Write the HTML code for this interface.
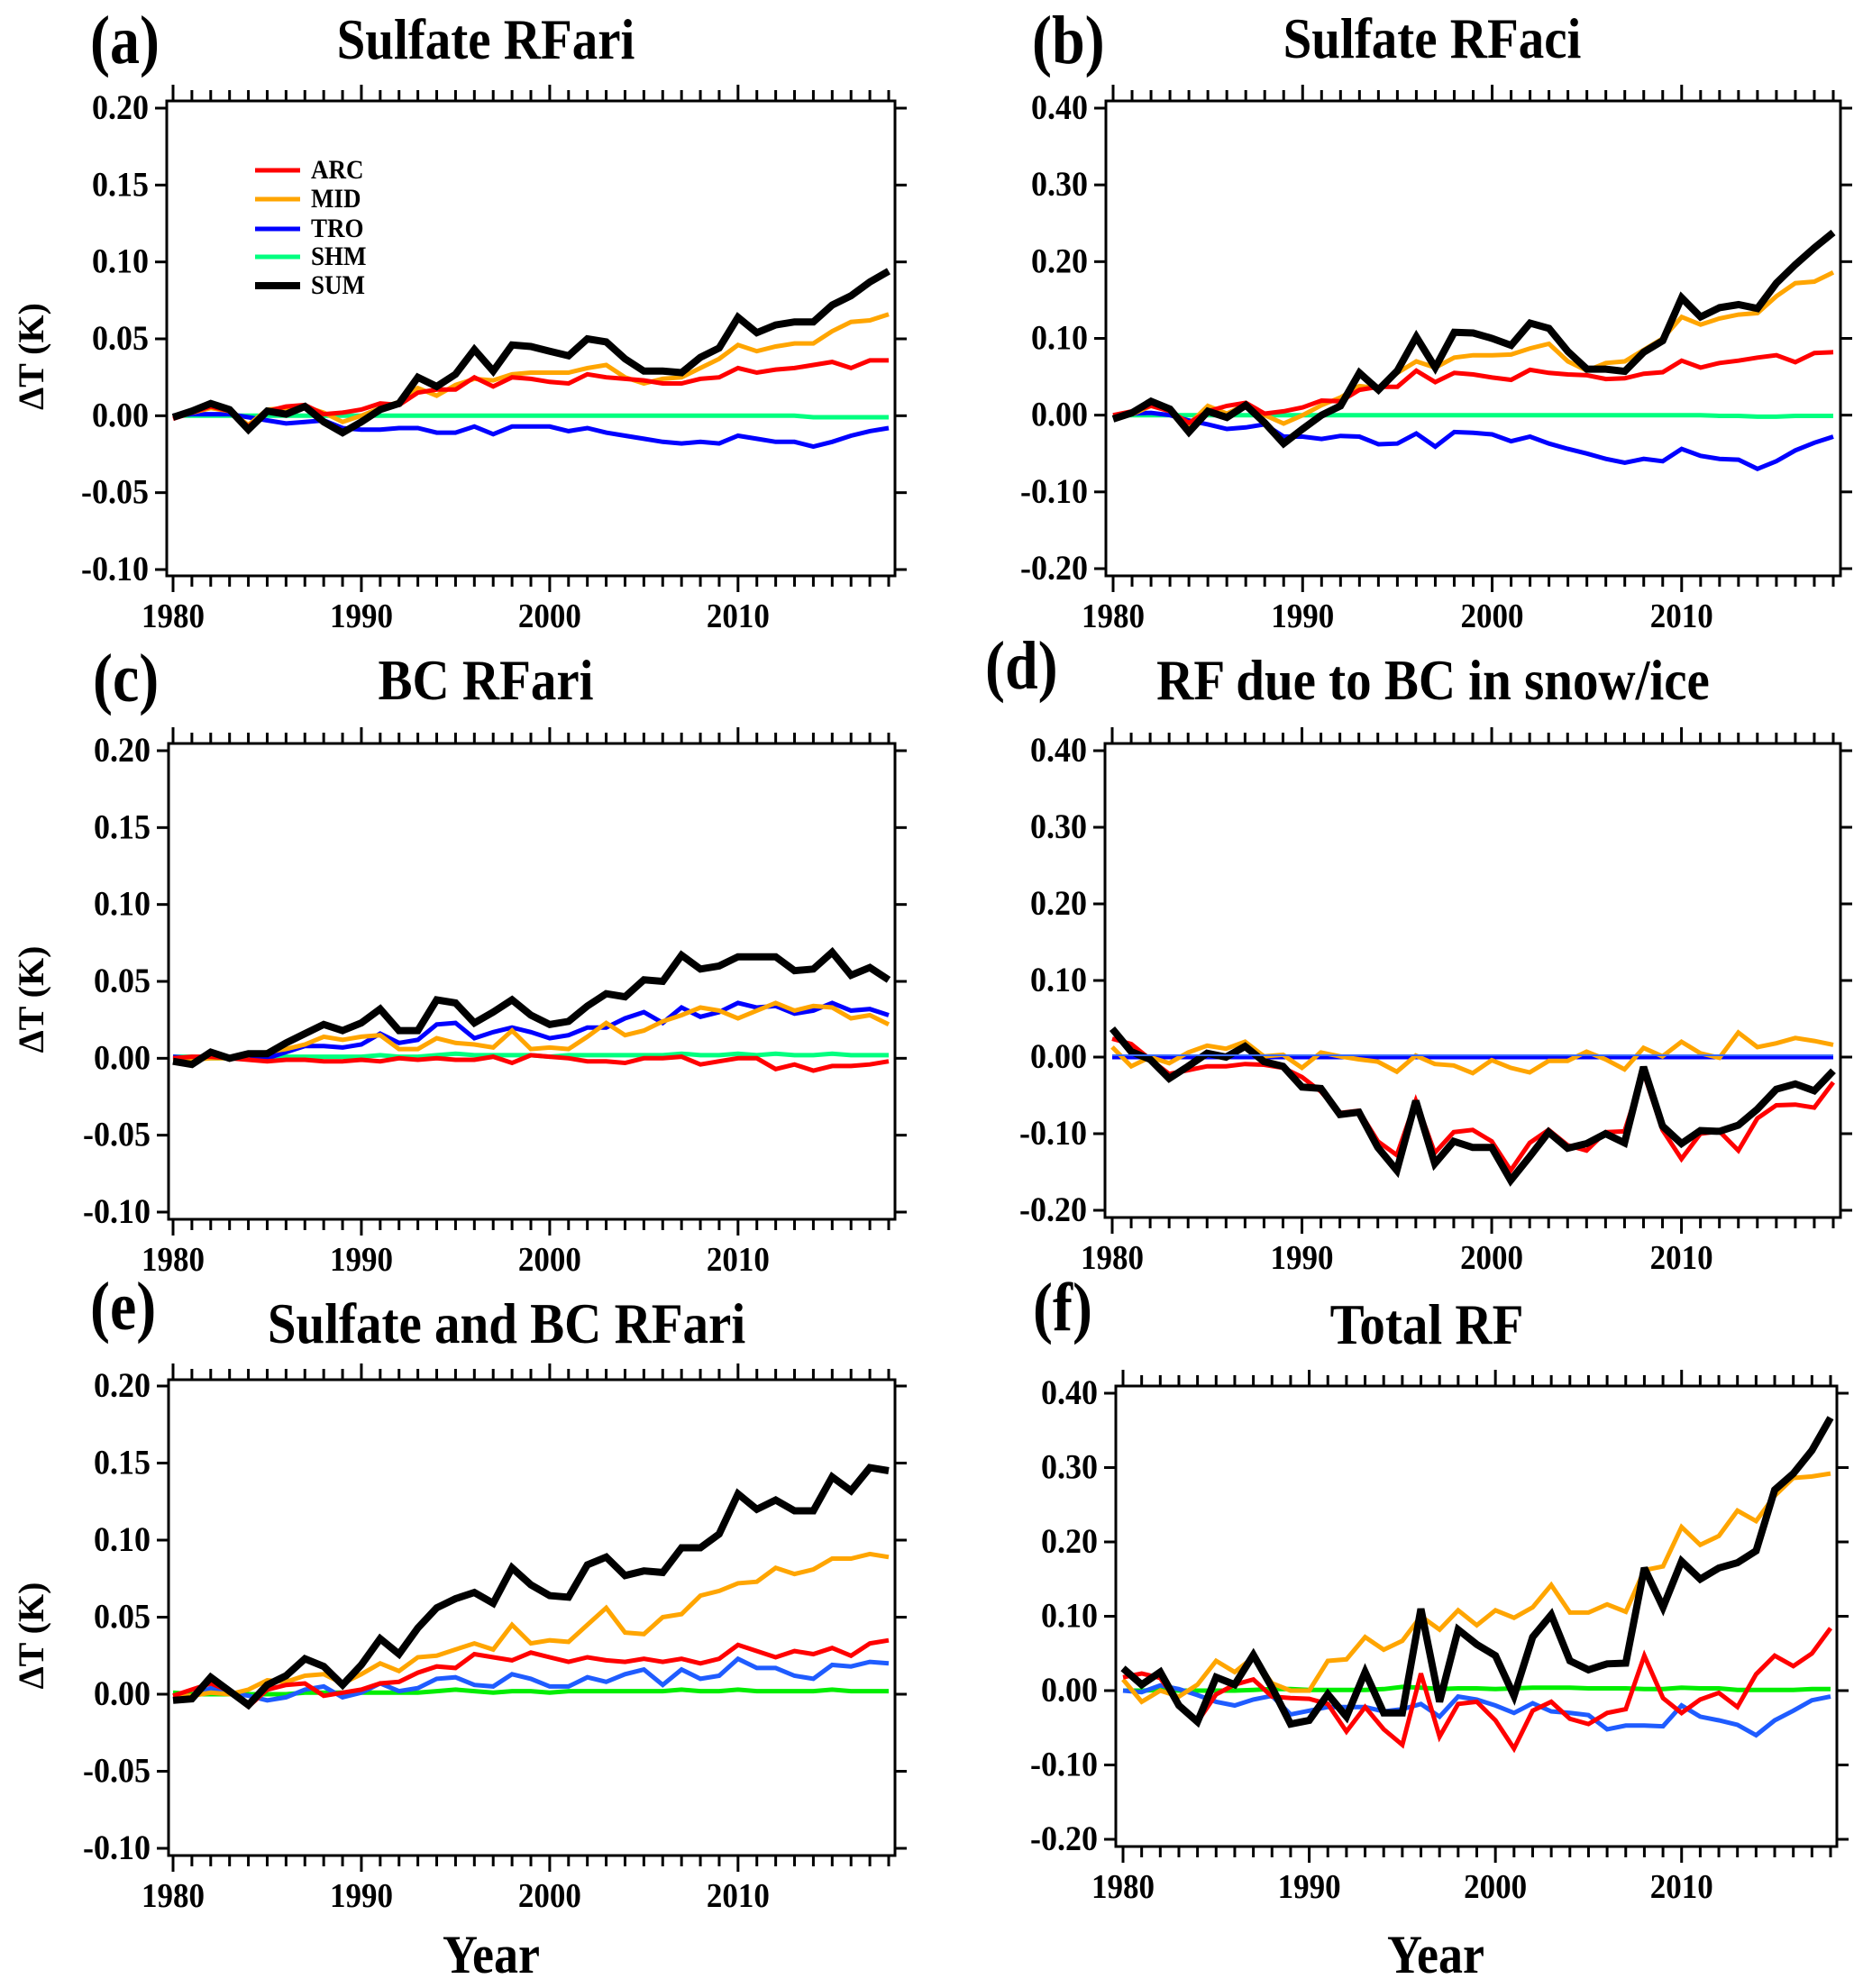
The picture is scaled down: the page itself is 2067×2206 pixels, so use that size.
<!DOCTYPE html>
<html><head><meta charset="utf-8"><style>
html,body{margin:0;padding:0;background:#fff;}
svg{display:block;font-family:"Liberation Serif",serif;font-weight:bold;}
</style></head><body>
<svg id="fig" width="2067" height="2206" viewBox="0 0 2067 2206" xmlns="http://www.w3.org/2000/svg"></svg>
<script>
const years = [];
for (let y = 1980; y <= 2018; y++) years.push(y);
const seriesNames = ["ARC","MID","TRO","SHM","SUM"];

// Panel (a) Sulfate RFari
const aARC=[-0.002,0.002,0.006,0.003,-0.007,0.003,0.006,0.007,0.001,0.002,0.004,0.008,0.007,0.015,0.017,0.017,0.025,0.019,0.025,0.024,0.022,0.021,0.027,0.025,0.024,0.023,0.021,0.021,0.024,0.025,0.031,0.028,0.030,0.031,0.033,0.035,0.031,0.036,0.036];
const aMID=[-0.001,0.002,0.005,0.003,-0.006,0.004,0.005,0.006,0.002,-0.004,0.000,0.005,0.009,0.018,0.013,0.020,0.024,0.023,0.027,0.028,0.028,0.028,0.031,0.033,0.025,0.021,0.024,0.025,0.031,0.037,0.046,0.042,0.045,0.047,0.047,0.055,0.061,0.062,0.066];
const aTRO=[0,0.001,0.001,0.001,-0.001,-0.003,-0.005,-0.004,-0.003,-0.008,-0.009,-0.009,-0.008,-0.008,-0.011,-0.011,-0.007,-0.012,-0.007,-0.007,-0.007,-0.010,-0.008,-0.011,-0.013,-0.015,-0.017,-0.018,-0.017,-0.018,-0.013,-0.015,-0.017,-0.017,-0.020,-0.017,-0.013,-0.010,-0.008];
const aSHM=[0,0,0,0,0,0,0,0,0,0,0,0,0,0,0,0,0,0,0,0,0,0,0,0,0,0,0,0,0,0,0,0,0,0,-0.001,-0.001,-0.001,-0.001,-0.001];
const aSUM=[-0.001,0.003,0.008,0.004,-0.009,0.003,0.001,0.006,-0.004,-0.011,-0.004,0.004,0.008,0.025,0.019,0.027,0.043,0.029,0.046,0.045,0.042,0.039,0.050,0.048,0.037,0.029,0.029,0.028,0.038,0.044,0.064,0.054,0.059,0.061,0.061,0.072,0.078,0.087,0.094];

// Panel (b) Sulfate RFaci
const bARC=[0,0.005,0.012,0.005,-0.010,0.005,0.012,0.016,0.002,0.005,0.010,0.019,0.018,0.033,0.037,0.037,0.058,0.043,0.055,0.053,0.049,0.046,0.059,0.055,0.053,0.052,0.047,0.048,0.054,0.056,0.071,0.062,0.068,0.071,0.075,0.078,0.069,0.081,0.082];
const bMID=[-0.002,0.001,0.012,0.006,-0.012,0.012,0.002,0.014,0.000,-0.011,0.000,0.013,0.023,0.038,0.035,0.055,0.070,0.062,0.075,0.078,0.078,0.079,0.087,0.093,0.070,0.058,0.068,0.070,0.085,0.100,0.128,0.118,0.126,0.131,0.133,0.155,0.172,0.174,0.186];
const bTRO=[0,0.002,0.003,0.000,-0.007,-0.012,-0.018,-0.016,-0.012,-0.028,-0.028,-0.031,-0.027,-0.028,-0.038,-0.037,-0.024,-0.041,-0.022,-0.023,-0.025,-0.034,-0.028,-0.037,-0.044,-0.050,-0.057,-0.062,-0.057,-0.060,-0.044,-0.053,-0.057,-0.058,-0.070,-0.060,-0.046,-0.036,-0.028];
const bSHM=[0,0,0,0,0,0,0,0,0,0,0,0,0,0,0,0,0,0,0,0,0,0,0,0,0,0,0,0,0,0,0,0,-0.001,-0.001,-0.002,-0.002,-0.001,-0.001,-0.001];
const bSUM=[-0.005,0.003,0.018,0.008,-0.022,0.005,-0.003,0.013,-0.010,-0.037,-0.018,0.000,0.012,0.055,0.033,0.058,0.102,0.062,0.108,0.107,0.100,0.091,0.120,0.113,0.083,0.060,0.060,0.057,0.082,0.097,0.153,0.128,0.140,0.144,0.139,0.172,0.196,0.218,0.238];

// Panel (c) BC RFari
const cARC=[0,0.001,0.001,0,-0.001,-0.002,-0.001,-0.001,-0.002,-0.002,-0.001,-0.002,0.000,-0.001,0.000,-0.001,-0.001,0.001,-0.003,0.002,0.001,0.000,-0.002,-0.002,-0.003,0.000,0.000,0.001,-0.004,-0.002,0.000,0.000,-0.007,-0.004,-0.008,-0.005,-0.005,-0.004,-0.002];
const cMID=[0,-0.001,0,0,0.002,0.004,0.006,0.009,0.014,0.012,0.014,0.015,0.006,0.006,0.013,0.010,0.009,0.007,0.018,0.006,0.007,0.006,0.014,0.023,0.015,0.018,0.024,0.028,0.033,0.031,0.026,0.031,0.036,0.031,0.034,0.033,0.026,0.028,0.022];
const cTRO=[0.001,0.000,0.002,0.000,0.000,0.000,0.004,0.008,0.008,0.007,0.009,0.016,0.010,0.012,0.022,0.023,0.013,0.017,0.020,0.017,0.013,0.015,0.020,0.020,0.026,0.030,0.023,0.033,0.027,0.030,0.036,0.033,0.034,0.029,0.031,0.036,0.031,0.032,0.028];
const cSHM=[0.001,0.001,0,0,0,0.001,0.001,0.001,0.001,0.001,0.001,0.002,0.001,0.001,0.002,0.003,0.002,0.002,0.002,0.002,0.001,0.002,0.002,0.002,0.002,0.002,0.002,0.003,0.002,0.002,0.003,0.002,0.003,0.002,0.002,0.003,0.002,0.002,0.002];
const cSUM=[-0.002,-0.004,0.004,0.000,0.003,0.003,0.010,0.016,0.022,0.018,0.023,0.032,0.018,0.018,0.038,0.036,0.023,0.030,0.038,0.028,0.022,0.024,0.034,0.042,0.040,0.051,0.050,0.067,0.058,0.060,0.066,0.066,0.066,0.057,0.058,0.069,0.054,0.059,0.051];

// Panel (d) RF due to BC in snow/ice
const dARC=[0.024,0.017,-0.003,-0.022,-0.017,-0.012,-0.012,-0.009,-0.010,-0.014,-0.026,-0.045,-0.073,-0.070,-0.110,-0.128,-0.057,-0.125,-0.098,-0.095,-0.110,-0.148,-0.112,-0.095,-0.115,-0.122,-0.098,-0.097,-0.020,-0.095,-0.133,-0.100,-0.097,-0.122,-0.080,-0.063,-0.062,-0.066,-0.033];
const dMID=[0.013,-0.012,0.000,-0.008,0.006,0.015,0.011,0.020,0.001,0.003,-0.014,0.006,0.001,-0.003,-0.006,-0.019,0.002,-0.009,-0.011,-0.021,-0.004,-0.014,-0.020,-0.005,-0.005,0.007,-0.003,-0.016,0.012,0.001,0.020,0.005,-0.001,0.032,0.013,0.018,0.025,0.021,0.016];
const dTRO=[0,0,0,0,0,0,0,0,0,0,0,0,0,0,0,0,0,0,0,0,0,0,0,0,0,0,0,0,0,0,0,0,0,0,0,0,0,0,0];
const dSHM=[0,0,0,0,0,0,0,0,0,0,0,0,0,0,0,0,0,0,0,0,0,0,0,0,0,0,0,0,0,0,0,0,0,0,0,0,0,0,0];
const dSUM=[0.037,0.007,-0.003,-0.028,-0.012,0.005,0.000,0.014,-0.006,-0.012,-0.039,-0.041,-0.075,-0.072,-0.118,-0.148,-0.057,-0.139,-0.110,-0.118,-0.118,-0.161,-0.130,-0.098,-0.119,-0.113,-0.100,-0.112,-0.013,-0.090,-0.113,-0.096,-0.097,-0.089,-0.068,-0.042,-0.035,-0.044,-0.018];

// Panel (e) Sulfate and BC RFari
const eARC=[-0.001,0.003,0.007,0.002,-0.008,0.003,0.006,0.007,-0.001,0.001,0.003,0.007,0.008,0.014,0.018,0.017,0.026,0.024,0.022,0.027,0.024,0.021,0.024,0.022,0.021,0.023,0.021,0.023,0.020,0.023,0.032,0.028,0.024,0.028,0.026,0.030,0.025,0.033,0.035];
const eMID=[-0.001,-0.001,0.001,0.000,0.003,0.009,0.008,0.012,0.013,0.007,0.013,0.020,0.015,0.024,0.025,0.029,0.033,0.029,0.045,0.033,0.035,0.034,0.045,0.056,0.040,0.039,0.050,0.052,0.064,0.067,0.072,0.073,0.082,0.078,0.081,0.088,0.088,0.091,0.089];
const eTRO=[-0.001,-0.002,0.004,0.001,-0.001,-0.004,-0.002,0.003,0.005,-0.002,0.001,0.007,0.002,0.004,0.010,0.011,0.006,0.005,0.013,0.010,0.005,0.005,0.011,0.008,0.013,0.016,0.006,0.016,0.010,0.012,0.023,0.017,0.017,0.012,0.010,0.019,0.018,0.021,0.020];
const eSHM=[0.001,0.000,0.000,0.000,0.000,0.000,0.000,0.001,0.001,0.001,0.001,0.001,0.001,0.001,0.002,0.003,0.002,0.001,0.002,0.002,0.001,0.002,0.002,0.002,0.002,0.002,0.002,0.003,0.002,0.002,0.003,0.002,0.002,0.002,0.002,0.003,0.002,0.002,0.002];
const eSUM=[-0.004,-0.003,0.011,0.002,-0.007,0.006,0.012,0.023,0.018,0.006,0.019,0.036,0.026,0.043,0.056,0.062,0.066,0.059,0.082,0.071,0.064,0.063,0.084,0.089,0.077,0.080,0.079,0.095,0.095,0.104,0.130,0.120,0.126,0.119,0.119,0.141,0.132,0.147,0.145];

// Panel (f) Total RF
const fARC=[0.018,0.023,0.017,-0.018,-0.042,-0.005,0.008,0.015,-0.008,-0.010,-0.011,-0.018,-0.055,-0.022,-0.052,-0.073,0.023,-0.062,-0.018,-0.015,-0.040,-0.078,-0.027,-0.015,-0.038,-0.045,-0.030,-0.025,0.047,-0.010,-0.030,-0.012,-0.003,-0.022,0.022,0.047,0.033,0.050,0.084];
const fMID=[0.015,-0.015,0.000,-0.008,0.008,0.040,0.025,0.045,0.010,0.000,0.000,0.040,0.042,0.072,0.055,0.067,0.100,0.082,0.108,0.088,0.108,0.098,0.112,0.142,0.105,0.105,0.116,0.106,0.162,0.167,0.220,0.196,0.208,0.242,0.228,0.262,0.286,0.288,0.292];
const fTRO=[0.000,-0.002,0.007,0.002,-0.006,-0.015,-0.020,-0.012,-0.007,-0.032,-0.027,-0.022,-0.022,-0.022,-0.028,-0.025,-0.018,-0.035,-0.008,-0.012,-0.020,-0.030,-0.017,-0.028,-0.030,-0.033,-0.052,-0.047,-0.047,-0.048,-0.020,-0.035,-0.040,-0.046,-0.060,-0.040,-0.027,-0.013,-0.008];
const fSHM=[0,0,0.001,0,0,0,0,0.001,0.002,0.002,0.001,0.001,0.001,0.001,0.002,0.005,0.004,0.002,0.003,0.003,0.002,0.003,0.004,0.004,0.004,0.003,0.003,0.003,0.002,0.002,0.004,0.003,0.003,0.001,0.001,0.001,0.001,0.002,0.002];
const fSUM=[0.030,0.008,0.025,-0.020,-0.042,0.018,0.008,0.048,0.004,-0.045,-0.040,-0.005,-0.035,0.025,-0.030,-0.030,0.110,-0.015,0.082,0.062,0.047,-0.007,0.072,0.102,0.040,0.028,0.036,0.037,0.165,0.112,0.174,0.150,0.165,0.172,0.188,0.270,0.292,0.323,0.367];

const ticksSmall = [0.20,0.15,0.10,0.05,0.00,-0.05,-0.10];
const ticksSmallLabels = ["0.20","0.15","0.10","0.05","0.00","-0.05","-0.10"];
const ticksLarge = [0.40,0.30,0.20,0.10,0.00,-0.10,-0.20];
const ticksLargeLabels = ["0.40","0.30","0.20","0.10","0.00","-0.10","-0.20"];
const yearTicks = [1980,1990,2000,2010];
const yearTickLabels = ["1980","1990","2000","2010"];

const NS = "http://www.w3.org/2000/svg";
const svg = document.getElementById('fig');
function mk(tag, attrs, parent) {
  const e = document.createElementNS(NS, tag);
  for (const k in attrs) e.setAttribute(k, attrs[k]);
  (parent || svg).appendChild(e);
  return e;
}
function txt(str, x, y, size, anchor, sy, parent) {
  const t = mk('text', {transform: `translate(${x},${y}) scale(1,${sy})`, 'font-size': size, 'text-anchor': anchor, fill: '#000'}, parent);
  t.textContent = str;
  return t;
}

const colA = {ARC:'#ff0000', MID:'#ffa500', TRO:'#0000ff', SHM:'#00ff7f', SUM:'#000000'};
const colE = {ARC:'#ff0000', MID:'#ffa500', TRO:'#1f5cff', SHM:'#00ee00', SUM:'#000000'};

const panels = [
 {id:'a', label:'(a)', title:'Sulfate RFari', fx:185, fx2:993, fy:112, fy2:639, x0:192, x1:986, yTop:120, yBot:632, vTop:0.20, vBot:-0.10, ticks:ticksSmall, tl:ticksSmallLabels, tx:539, ty:65, lx:100, ly:70, data:[aARC,aMID,aTRO,aSHM,aSUM], col:colA, ylab:true, legend:true},
 {id:'b', label:'(b)', title:'Sulfate RFaci', fx:1227, fx2:2042, fy:112, fy2:639, x0:1235, x1:2034, yTop:120, yBot:631, vTop:0.40, vBot:-0.20, ticks:ticksLarge, tl:ticksLargeLabels, tx:1589, ty:64, lx:1145, ly:70, data:[bARC,bMID,bTRO,bSHM,bSUM], col:colA},
 {id:'c', label:'(c)', title:'BC RFari', fx:187, fx2:993, fy:825, fy2:1353, x0:192, x1:986, yTop:833, yBot:1345, vTop:0.20, vBot:-0.10, ticks:ticksSmall, tl:ticksSmallLabels, tx:539, ty:776, lx:103, ly:778, data:[cARC,cMID,cTRO,cSHM,cSUM], col:colA, ylab:true},
 {id:'d', label:'(d)', title:'RF due to BC in snow/ice', fx:1226, fx2:2042, fy:825, fy2:1351, x0:1234, x1:2034, yTop:833, yBot:1343, vTop:0.40, vBot:-0.20, ticks:ticksLarge, tl:ticksLargeLabels, tx:1590, ty:776, lx:1093, ly:764, data:[dARC,dMID,dTRO,dSHM,dSUM], col:colA},
 {id:'e', label:'(e)', title:'Sulfate and BC RFari', fx:187, fx2:993, fy:1531, fy2:2059, x0:192, x1:986, yTop:1538, yBot:2051, vTop:0.20, vBot:-0.10, ticks:ticksSmall, tl:ticksSmallLabels, tx:562, ty:1490, lx:100, ly:1475, data:[eARC,eMID,eTRO,eSHM,eSUM], col:colE, ylab:true, xlab:true},
 {id:'f', label:'(f)', title:'Total RF', fx:1238, fx2:2038, fy:1538, fy2:2049, x0:1246, x1:2031, yTop:1546, yBot:2041, vTop:0.40, vBot:-0.20, ticks:ticksLarge, tl:ticksLargeLabels, tx:1583, ty:1491, lx:1146, ly:1476, data:[fARC,fMID,fTRO,fSHM,fSUM], col:colE, xlab:true}
];

panels.forEach(p => {
  const g = mk('g', {});
  
  
  const xs = yr => p.x0 + (yr - 1980) * (p.x1 - p.x0) / 38;
  const ys = v => p.yTop + (p.vTop - v) * (p.yBot - p.yTop) / (p.vTop - p.vBot);

  const lab = txt(p.label, p.lx, p.ly, 66, 'start', 1.15, g);
  
  
  const tt = txt(p.title, p.tx, p.ty, 57, 'middle', 1.12, g);
  
  

  const order = [3,2,1,0,4];
  order.forEach(si => {
    const name = seriesNames[si];
    const vals = p.data[si];
    let d = '';
    vals.forEach((v, i) => { d += (i ? 'L' : 'M') + xs(years[i]).toFixed(1) + ',' + ys(v).toFixed(1); });
    const path = mk('path', {d: d, fill: 'none', stroke: p.col[name], 'stroke-width': name === 'SUM' ? 8 : 5, 'stroke-linejoin': 'miter', 'stroke-miterlimit': 3}, g);
    
    
  });
  if (p.id === 'd') {
    const bl = mk('line', {x1: xs(1980), x2: xs(2018), y1: ys(0)-2, y2: ys(0)-2, stroke: '#3a6cff', 'stroke-width': 2}, g);
    
    
  }

  const fr = mk('rect', {x: p.fx, y: p.fy, width: p.fx2 - p.fx, height: p.fy2 - p.fy, fill: 'none', stroke: '#000', 'stroke-width': 3}, g);
  
  

  years.forEach(yr => {
    const x = xs(yr);
    const len = (yr % 10 === 0) ? 18 : 12;
    mk('line', {x1: x, x2: x, y1: p.fy, y2: p.fy - len, stroke: '#000', 'stroke-width': 3}, g);
    mk('line', {x1: x, x2: x, y1: p.fy2, y2: p.fy2 + len, stroke: '#000', 'stroke-width': 3}, g);
  });
  yearTicks.forEach((yr, i) => {
    const t = txt(yearTickLabels[i], xs(yr), p.fy2 + 57, 35, 'middle', 1.1, g);
    
    
  });
  p.ticks.forEach((v, i) => {
    const y = ys(v);
    mk('line', {x1: p.fx, x2: p.fx - 13, y1: y, y2: y, stroke: '#000', 'stroke-width': 3}, g);
    mk('line', {x1: p.fx2, x2: p.fx2 + 13, y1: y, y2: y, stroke: '#000', 'stroke-width': 3}, g);
    const t = txt(p.tl[i], p.fx - 20, y + 12, 36, 'end', 1.1, g);
    
    
  });

  if (p.ylab) {
    const cy = (p.fy + p.fy2) / 2 + 20;
    const t = mk('text', {transform: `translate(48,${cy}) rotate(-90)`, 'font-size': 40, 'text-anchor': 'middle', fill: '#000'}, g);
    t.textContent = 'ΔT (K)';
    
    
  }
  if (p.xlab) {
    const t = txt('Year', (p.fx + p.fx2) / 2 - 45, 2189, 54, 'middle', 1.12, g);
    
    
  }
  if (p.legend) {
    const lg = mk('g', {}, g);
    
    
    const ly = [189, 221, 254, 285, 317];
    seriesNames.forEach((n, i) => {
      const e = mk('g', {}, lg);
      
      
      mk('line', {x1: 283, x2: 333, y1: ly[i], y2: ly[i], stroke: p.col[n], 'stroke-width': n === 'SUM' ? 8 : 5}, e);
      txt(n, 345, ly[i] + 9, 27, 'start', 1.1, e);
    });
  }
});
</script>
</body></html>
